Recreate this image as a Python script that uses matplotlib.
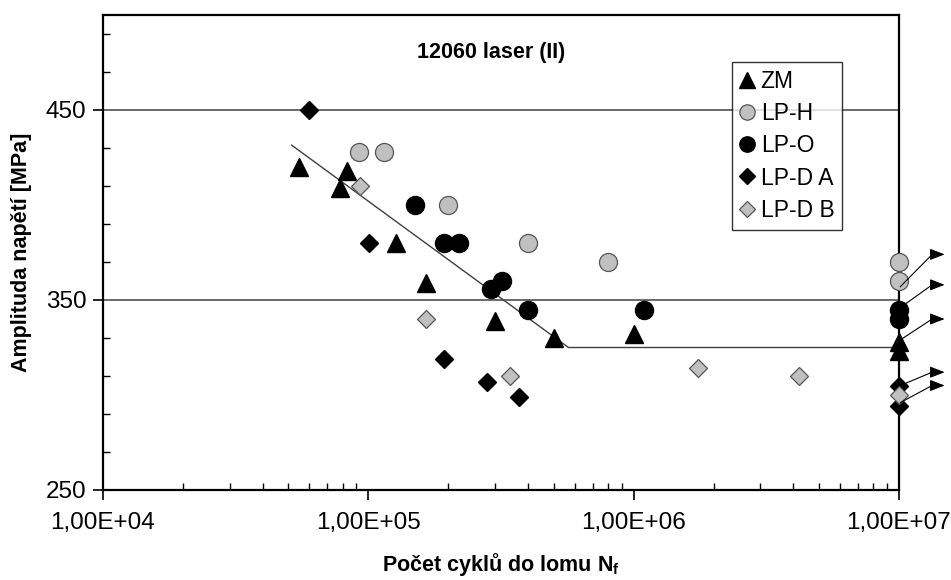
import matplotlib
matplotlib.use("Agg")
import matplotlib.pyplot as plt
from matplotlib.ticker import FixedLocator, NullFormatter, LogLocator

plt.rcParams['font.family'] = ['Liberation Sans', 'DejaVu Sans']
plt.rcParams['mathtext.fontset'] = 'custom'
plt.rcParams['mathtext.bf'] = 'Liberation Sans:bold'
plt.rcParams['mathtext.rm'] = 'Liberation Sans'

# ---- data ----
zm_n = [5.5e4, 8.3e4, 7.8e4, 1.27e5, 1.65e5, 3.0e5, 5.0e5, 1.0e6, 1e7, 1e7]
zm_s = [420, 418, 409, 380, 359, 339, 330, 332, 328, 323]
lph_n = [9.25e4, 1.15e5, 2.0e5, 4.0e5, 8.0e5, 1e7, 1e7]
lph_s = [428, 428, 400, 380, 370, 370, 360]
lpo_n = [1.5e5, 1.92e5, 2.2e5, 2.89e5, 3.2e5, 4.0e5, 1.09e6, 1e7, 1e7]
lpo_s = [400, 380, 380, 356, 360, 345, 345, 345, 340]
lpda_n = [6.0e4, 1.01e5, 1.93e5, 2.81e5, 3.7e5, 1e7, 1e7]
lpda_s = [450, 380, 319, 307, 299, 305, 294]
lpdb_n = [9.3e4, 1.65e5, 3.42e5, 1.75e6, 4.2e6, 1e7]
lpdb_s = [410, 340, 310, 314, 310, 300]

fit_n = [5.14e4, 5.68e5, 1e7]
fit_s = [431.5, 325, 325]

# run-outs (line from marker to kink, then arrow)
runout_start_s = [357, 346, 329, 305, 296]
runout_end_s = [374, 358, 340, 312, 305]

xticks = [1e4, 1e5, 1e6, 1e7]
xticklabels = ['1,00E+04', '1,00E+05', '1,00E+06', '1,00E+07']
yticks = [250, 350, 450]

title = '12060 laser (II)'
xlabel = r'Počet cyklů do lomu N$_\mathbf{f}$'
ylabel = 'Amplituda napětí [MPa]'

fig = plt.figure(figsize=(9.51, 5.80), dpi=100)
ax = fig.add_axes([103/951, 90/580, 796/951, 475/580])
ax.set_xscale('log')
ax.set_xlim(1e4, 1e7)
ax.set_ylim(250, 500)

for y in yticks:
    ax.axhline(y, color='#505050', lw=1.2, zorder=1)

ax.plot(fit_n, fit_s, color='#404040', lw=1.0, zorder=2)

gray = '#c0c0c0'
edge = '#555555'
kw = dict(ls='none', zorder=3, clip_on=False)
ax.plot(zm_n, zm_s, marker='^', ms=13, mfc='black', mec='black', label='ZM', **kw)
ax.plot(lph_n, lph_s, marker='o', ms=13, mfc=gray, mec=edge, mew=0.9, label='LP-H', **kw)
ax.plot(lpo_n, lpo_s, marker='o', ms=13, mfc='black', mec='black', label='LP-O', **kw)
ax.plot(lpda_n, lpda_s, marker='D', ms=9, mfc='black', mec='black', label='LP-D A', **kw)
ax.plot(lpdb_n, lpdb_s, marker='D', ms=9, mfc=gray, mec=edge, mew=0.9, label='LP-D B', **kw)

# run-out arrows
xs = 1e7 * 10**0.005
xk = 1e7 * 10**0.125
xt = 1e7 * 10**0.172
for s0, s1 in zip(runout_start_s, runout_end_s):
    ax.plot([xs, xk], [s0, s1], color='black', lw=0.8, clip_on=False, zorder=4)
    ax.annotate('', xy=(xt, s1), xytext=(xk, s1),
                arrowprops=dict(arrowstyle='-|>,head_length=0.9,head_width=0.35',
                                color='black', lw=0.8, shrinkA=0, shrinkB=0),
                annotation_clip=False)

for sp in ax.spines.values():
    sp.set_linewidth(1.6)
    sp.set_color('black')

ax.xaxis.set_major_locator(FixedLocator(xticks))
ax.set_xticklabels(xticklabels)
ax.xaxis.set_minor_locator(LogLocator(base=10, subs=range(2, 10)))
ax.xaxis.set_minor_formatter(NullFormatter())
ax.set_yticks(yticks)
ax.set_yticks(range(270, 500, 20), minor=True)
ax.tick_params(axis='both', which='major', direction='out', length=7, width=1.2,
               labelsize=17.5, pad=5)
ax.tick_params(axis='both', which='minor', direction='in', length=5, width=1.0)
ax.tick_params(axis='x', which='major', pad=9)

ax.set_xlabel(xlabel, fontsize=15.5, fontweight='bold', labelpad=12)
ax.set_ylabel(ylabel, fontsize=15.5, fontweight='bold', labelpad=10)

ax.text(0.4874, 0.922, title, transform=ax.transAxes, ha='center', va='center',
        fontsize=15.5, fontweight='bold')

leg = ax.legend(loc='upper left', bbox_to_anchor=((732-103)/796, (490-62)/475),
                borderaxespad=0, frameon=True, fancybox=False, fontsize=16.5,
                handlelength=0.6, handletextpad=0.3, labelspacing=0.4,
                borderpad=0.35, markerscale=0.85)
leg.get_frame().set_edgecolor('black')
leg.get_frame().set_linewidth(1.0)
leg.set_zorder(5)

fig.savefig('out.png', dpi=100)
